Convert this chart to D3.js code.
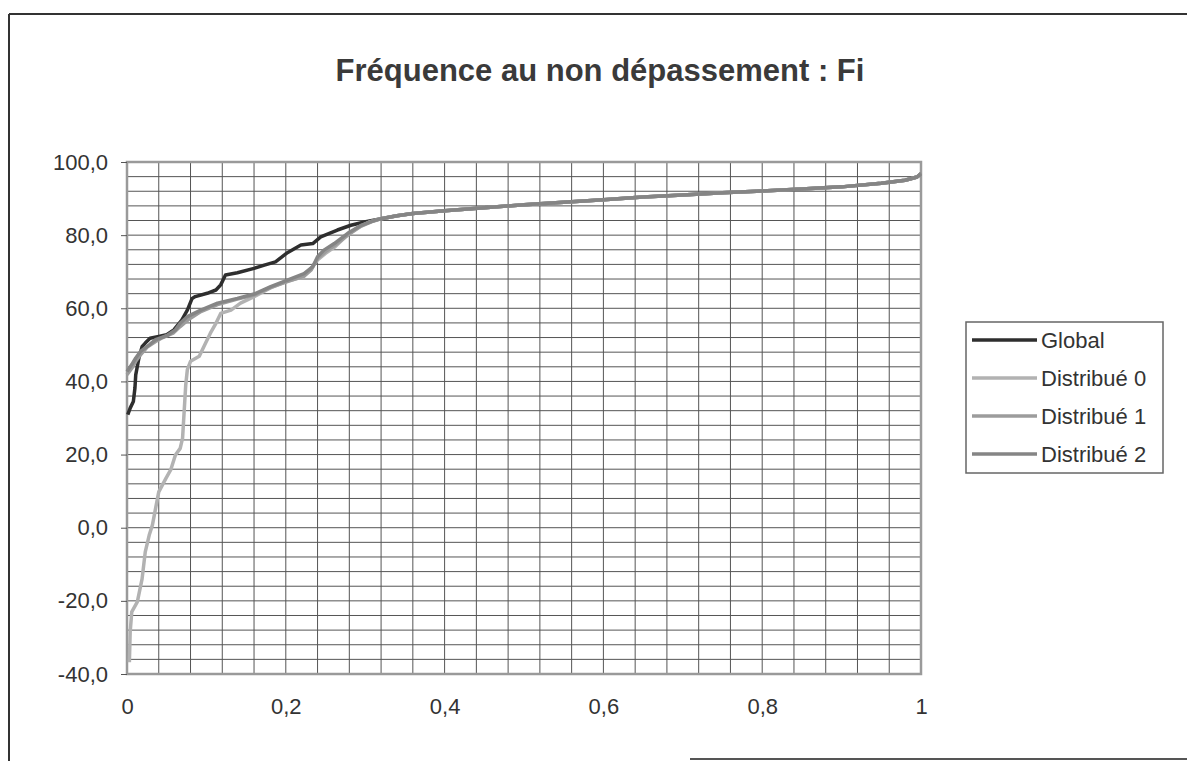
<!DOCTYPE html>
<html>
<head>
<meta charset="utf-8">
<script src="https://cdn.jsdelivr.net/npm/d3@7"></script>
<style>
  body { margin: 0; background: #fff; }
  text { font-family: Arial, "Liberation Sans", sans-serif; fill: #333; }
</style>
</head>
<body>
<div class="chart"></div>
<script>
var title = "Fréquence au non dépassement : Fi";
var seriesNames = ["Global", "Distribué 0", "Distribué 1", "Distribué 2"];
var seriesColors = ["#2e2e2e", "#b2b2b2", "#9c9c9c", "#858585"];

var xTicks = [0, 0.2, 0.4, 0.6, 0.8, 1];
var yTicks = [-40, -20, 0, 20, 40, 60, 80, 100];

// start of each curve
var globalX = [0.001, 0.004, 0.008, 0.010, 0.011, 0.015, 0.019, 0.023, 0.029, 0.040, 0.050, 0.059, 0.069, 0.076, 0.082, 0.086, 0.101, 0.112, 0.118, 0.124, 0.139, 0.160, 0.173, 0.187, 0.202, 0.219, 0.234, 0.244, 0.265, 0.282, 0.299];
var globalY = [30.9, 32.7, 34.5, 38.2, 41.8, 46.4, 49.5, 50.5, 51.8, 52.3, 52.8, 54.1, 56.8, 59.5, 62.7, 63.2, 64.1, 65.0, 66.4, 69.1, 69.7, 70.9, 71.8, 72.7, 75.2, 77.3, 77.7, 79.5, 81.4, 82.7, 83.6];

var dist0X = [0.003, 0.004, 0.006, 0.013, 0.019, 0.023, 0.028, 0.032, 0.036, 0.040, 0.049, 0.055, 0.061, 0.067, 0.070, 0.074, 0.076, 0.080, 0.091, 0.099, 0.105, 0.112, 0.118, 0.131, 0.143, 0.160, 0.180, 0.200, 0.222, 0.232, 0.240, 0.250, 0.262, 0.275, 0.290, 0.305];
var dist0Y = [-36.8, -28.5, -23.0, -20.3, -14.0, -6.6, -2.0, 0.7, 5.3, 9.8, 13.5, 15.8, 19.9, 21.7, 24.5, 39.1, 43.2, 45.5, 46.9, 50.5, 53.2, 55.9, 58.6, 59.5, 61.4, 63.2, 65.5, 67.3, 68.6, 71.0, 73.2, 75.0, 76.8, 79.5, 82.0, 83.6];

var dist1X = [0.000, 0.006, 0.011, 0.017, 0.026, 0.036, 0.045, 0.058, 0.067, 0.078, 0.093, 0.114, 0.139, 0.160, 0.181, 0.202, 0.223, 0.232, 0.240, 0.250, 0.262, 0.278, 0.295, 0.310];
var dist1Y = [41.8, 43.6, 45.5, 47.3, 49.5, 50.9, 52.0, 53.2, 55.0, 57.0, 59.1, 61.0, 62.5, 63.6, 65.7, 67.3, 68.8, 70.5, 73.6, 75.5, 77.3, 80.0, 82.5, 83.8];

var dist2X = [0.000, 0.006, 0.011, 0.017, 0.028, 0.036, 0.050, 0.061, 0.067, 0.076, 0.093, 0.114, 0.139, 0.160, 0.181, 0.202, 0.223, 0.234, 0.240, 0.248, 0.261, 0.278, 0.295, 0.310];
var dist2Y = [42.7, 44.6, 46.4, 48.2, 50.0, 51.4, 52.5, 54.1, 55.9, 57.7, 59.5, 61.4, 62.7, 63.9, 65.9, 67.7, 69.5, 71.4, 74.1, 75.9, 77.7, 80.5, 82.7, 83.9];

// after ~0.32 all four curves lie on top of each other
var tailX = [0.32, 0.34, 0.36, 0.40, 0.45, 0.50, 0.55, 0.60, 0.65, 0.70, 0.75, 0.80, 0.85, 0.90, 0.95, 0.98, 0.995, 1.0];
var tailY = [84.5, 85.3, 85.9, 86.7, 87.5, 88.3, 89.0, 89.7, 90.4, 91.0, 91.6, 92.1, 92.6, 93.2, 94.2, 95.0, 95.9, 96.8];

var W = 1187, H = 761;
var plot = {left: 127, right: 921, top: 162, bottom: 674};

var svg = d3.select('.chart').append('svg').attr('width', W).attr('height', H);

var x = d3.scaleLinear().domain([0, 1]).range([plot.left, plot.right]);
var y = d3.scaleLinear().domain([-40, 100]).range([plot.bottom, plot.top]);

// outer frame (scanned, bottom only shows on the right)
svg.append('line').attr('x1', 9).attr('y1', 14).attr('x2', 9).attr('y2', H).attr('stroke', '#333').attr('stroke-width', 2);
svg.append('line').attr('x1', 9).attr('y1', 14).attr('x2', W).attr('y2', 14).attr('stroke', '#333').attr('stroke-width', 2);
svg.append('line').attr('x1', 690).attr('y1', 759).attr('x2', W).attr('y2', 759).attr('stroke', '#555').attr('stroke-width', 2);

svg.append('text').attr('x', 600).attr('y', 81).attr('text-anchor', 'middle')
  .style('font-size', '31px').style('font-weight', 'bold').style('fill', '#3a3a3a').text(title);

// grid
var gx = d3.range(0, 1.0001, 0.04);
var gy = d3.range(-40, 100.001, 4);
svg.append('g').selectAll('line').data(gx).enter().append('line')
  .attr('x1', function(d){ return x(d); }).attr('x2', function(d){ return x(d); })
  .attr('y1', plot.top).attr('y2', plot.bottom)
  .attr('stroke', '#555').attr('stroke-width', 1);
svg.append('g').selectAll('line').data(gy).enter().append('line')
  .attr('x1', plot.left).attr('x2', plot.right)
  .attr('y1', function(d){ return y(d); }).attr('y2', function(d){ return y(d); })
  .attr('stroke', '#555').attr('stroke-width', 1);

svg.append('rect').attr('x', plot.left).attr('y', plot.top)
  .attr('width', plot.right - plot.left).attr('height', plot.bottom - plot.top)
  .attr('fill', 'none').attr('stroke', '#9a9a9a').attr('stroke-width', 2.5);

// axes
var yAxis = d3.axisLeft(y).tickValues(yTicks).tickSize(6).tickPadding(13)
  .tickFormat(function(d){ return d.toFixed(1).replace('.', ','); });
var ya = svg.append('g').attr('transform', 'translate(' + plot.left + ',0)').call(yAxis);
ya.select('.domain').remove();
ya.selectAll('line').attr('stroke', '#555');
ya.selectAll('text').style('font-size', '22px').attr('fill', '#333');

var xAxis = d3.axisBottom(x).tickValues(xTicks).tickSize(0).tickPadding(24)
  .tickFormat(function(d){ return String(d).replace('.', ','); });
var xa = svg.append('g').attr('transform', 'translate(0,' + plot.bottom + ')').call(xAxis);
xa.select('.domain').remove();
xa.selectAll('text').style('font-size', '22px').attr('fill', '#333');

// series
var allX = [globalX, dist0X, dist1X, dist2X];
var allY = [globalY, dist0Y, dist1Y, dist2Y];
var line = d3.line().x(function(d){ return x(d[0]); }).y(function(d){ return y(d[1]); });

for (var i = 0; i < 4; i++) {
  var pts = allX[i].map(function(v, j){ return [v, allY[i][j]]; });
  tailX.forEach(function(v, j){ pts.push([v, tailY[j]]); });
  svg.append('path').datum(pts).attr('d', line)
    .attr('fill', 'none').attr('stroke', seriesColors[i])
    .attr('stroke-width', 3.5).attr('stroke-linejoin', 'round');
}

// legend
var lg = svg.append('g');
lg.append('rect').attr('x', 966).attr('y', 322).attr('width', 197).attr('height', 151)
  .attr('fill', '#fff').attr('stroke', '#666').attr('stroke-width', 1.5);
seriesNames.forEach(function(n, i){
  var ly = 340 + i * 38;
  lg.append('line').attr('x1', 972).attr('x2', 1037).attr('y1', ly).attr('y2', ly)
    .attr('stroke', seriesColors[i]).attr('stroke-width', 3.5);
  lg.append('text').attr('x', 1041).attr('y', ly).attr('dy', '0.35em')
    .style('font-size', '22px').text(n);
});
</script>
</body>
</html>
